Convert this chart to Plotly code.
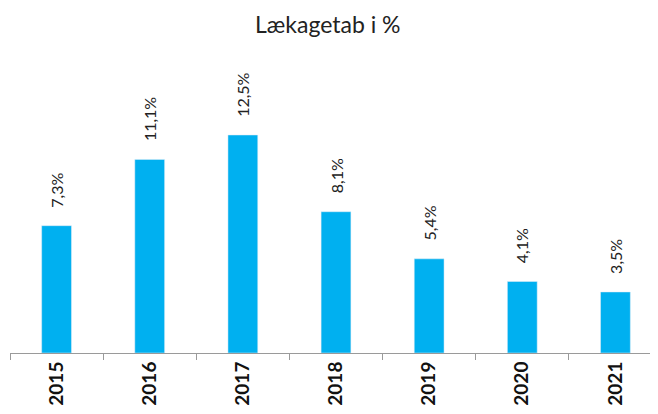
import plotly.graph_objects as go

years = ["2015", "2016", "2017", "2018", "2019", "2020", "2021"]
values = [7.3, 11.1, 12.5, 8.1, 5.4, 4.1, 3.5]
labels = [f"{v:.1f}%".replace(".", ",") for v in values]

FONT = "Lato, Open Sans, sans-serif"

fig = go.Figure(go.Bar(
    x=years, y=values,
    marker=dict(color="#00B0F0"),
    cliponaxis=False,
))

# category axis: annotation x uses the category index
for i, (v, lab) in enumerate(zip(values, labels)):
    fig.add_annotation(
        x=i, y=v, xref="x", yref="y", text=lab, showarrow=False, textangle=-90,
        xanchor="center", yanchor="bottom", yshift=16,
        font=dict(family=FONT, size=16, color="#222"),
    )

fig.update_layout(
    width=658, height=414,
    margin=dict(l=2, r=4, t=52, b=69),
    paper_bgcolor="white", plot_bgcolor="white",
    bargap=0.68,
    showlegend=False,
    title=dict(text="Lækagetab i %", x=0.486, xanchor="center", y=0.958, yanchor="middle",
               font=dict(family=FONT, size=23, color="#222")),
    xaxis=dict(
        type="category",
        automargin=False,
        showline=True, linecolor="#9a9a9a", linewidth=1,
        ticks="outside", tickson="boundaries", ticklen=6, tickcolor="#9a9a9a",
        tickangle=-90,
        tickfont=dict(family=FONT, size=19, color="#111", weight="bold"),
        showgrid=False,
    ),
    yaxis=dict(range=[0, 16.8], visible=False, showgrid=False, zeroline=False, automargin=False),
)

fig.write_html("out.html")
